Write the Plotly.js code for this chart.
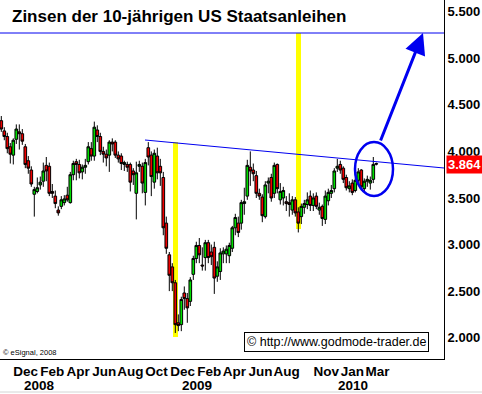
<!DOCTYPE html>
<html><head><meta charset="utf-8">
<script src="https://cdn.plot.ly/plotly-3.0.1.min.js"></script>
<style>html,body{margin:0;padding:0;background:#fff;} #chart{width:482px;height:394px;}</style>
</head><body><div id="chart"></div>
<script>
// Weekly candles (week ending Friday)
const weekDates = [
'2007-11-09','2007-11-16','2007-11-23','2007-11-30','2007-12-07','2007-12-14','2007-12-21','2007-12-28',
'2008-01-04','2008-01-11','2008-01-18','2008-01-25','2008-02-01','2008-02-08','2008-02-15','2008-02-22',
'2008-02-29','2008-03-07','2008-03-14','2008-03-21','2008-03-28','2008-04-04','2008-04-11','2008-04-18',
'2008-04-25','2008-05-02','2008-05-09','2008-05-16','2008-05-23','2008-05-30','2008-06-06','2008-06-13',
'2008-06-20','2008-06-27','2008-07-04','2008-07-11','2008-07-18','2008-07-25','2008-08-01','2008-08-08',
'2008-08-15','2008-08-22','2008-08-29','2008-09-05','2008-09-12','2008-09-19','2008-09-26','2008-10-03',
'2008-10-10','2008-10-17','2008-10-24','2008-10-31','2008-11-07','2008-11-14','2008-11-21','2008-11-28',
'2008-12-05','2008-12-12','2008-12-19','2008-12-26','2009-01-02','2009-01-09','2009-01-16','2009-01-23',
'2009-01-30','2009-02-06','2009-02-13','2009-02-20','2009-02-27','2009-03-06','2009-03-13','2009-03-20',
'2009-03-27','2009-04-03','2009-04-10','2009-04-17','2009-04-24','2009-05-01','2009-05-08','2009-05-15',
'2009-05-22','2009-05-29','2009-06-05','2009-06-12','2009-06-19','2009-06-26','2009-07-03','2009-07-10',
'2009-07-17','2009-07-24','2009-07-31','2009-08-07','2009-08-14','2009-08-21','2009-08-28','2009-09-04',
'2009-09-11','2009-09-18','2009-09-25','2009-10-02','2009-10-09','2009-10-16','2009-10-23','2009-10-30',
'2009-11-06','2009-11-13','2009-11-20','2009-11-27','2009-12-04','2009-12-11','2009-12-18','2009-12-25',
'2010-01-01','2010-01-08','2010-01-15','2010-01-22','2010-01-29','2010-02-05','2010-02-12','2010-02-19',
'2010-02-26','2010-03-05','2010-03-12','2010-03-19','2010-03-26','2010-04-02'];
const openVals = [
4.33,4.22,4.16,4.05,3.96,4.13,4.21,4.19,
4.05,3.90,3.80,3.54,3.57,3.64,3.68,3.85,
3.84,3.57,3.52,3.37,3.41,3.45,3.53,3.45,
3.75,3.89,3.86,3.78,3.83,3.89,4.03,3.95,
4.23,4.16,4.00,3.97,3.96,4.10,4.10,3.96,
3.95,3.86,3.86,3.86,3.79,3.55,3.84,3.84,
3.56,4.04,3.96,3.67,3.95,3.84,3.72,3.23,
2.89,2.76,2.59,2.16,2.14,2.48,2.42,2.39,
2.68,2.85,2.99,2.78,2.86,3.02,2.92,2.97,
2.66,2.71,2.90,2.90,2.88,2.96,3.18,3.23,
3.23,3.44,3.52,3.83,3.80,3.74,3.55,3.51,
3.30,3.66,3.72,3.55,3.86,3.48,3.50,3.46,
3.45,3.37,3.48,3.35,3.30,3.40,3.43,3.52,
3.42,3.52,3.37,3.41,3.27,3.47,3.55,3.60,
3.82,3.86,3.82,3.72,3.60,3.66,3.58,3.69,
3.80,3.60,3.68,3.66,3.70,3.87];
const highVals = [
4.38,4.26,4.20,4.09,4.14,4.29,4.29,4.24,
4.08,3.95,3.84,3.62,3.72,3.73,3.88,3.94,
3.88,3.65,3.58,3.41,3.52,3.53,3.62,3.78,
3.90,3.92,3.91,3.86,3.92,4.10,4.10,4.32,
4.28,4.20,4.05,4.02,4.12,4.14,4.12,4.00,
3.98,3.90,3.89,3.88,3.82,3.89,3.90,3.88,
3.92,4.10,4.00,4.02,4.04,3.92,3.78,3.30,
2.92,2.80,2.62,2.25,2.44,2.55,2.48,2.65,
2.88,3.03,3.07,2.97,3.05,3.05,3.00,3.03,
2.82,2.96,2.97,2.99,3.02,3.20,3.33,3.30,
3.48,3.61,3.91,4.00,3.87,3.79,3.60,3.54,
3.68,3.72,3.76,3.88,3.87,3.66,3.62,3.52,
3.55,3.52,3.51,3.40,3.44,3.48,3.56,3.58,
3.55,3.56,3.45,3.43,3.58,3.60,3.64,3.82,
3.92,3.90,3.84,3.75,3.68,3.70,3.72,3.82,
3.81,3.71,3.74,3.73,3.94,3.88];
const lowVals = [
4.21,4.12,3.98,3.87,3.86,4.08,4.02,4.07,
3.82,3.76,3.62,3.30,3.55,3.59,3.62,3.68,
3.52,3.50,3.39,3.31,3.38,3.42,3.46,3.44,
3.69,3.69,3.71,3.70,3.76,3.86,3.90,3.90,
4.10,3.96,3.88,3.84,3.78,4.00,3.93,3.88,
3.80,3.79,3.78,3.57,3.64,3.27,3.78,3.55,
3.42,3.85,3.52,3.60,3.70,3.63,3.10,2.90,
2.50,2.50,2.05,2.07,2.07,2.30,2.16,2.34,
2.62,2.80,2.80,2.72,2.72,2.80,2.78,2.47,
2.60,2.62,2.80,2.80,2.80,2.92,3.10,3.08,
3.16,3.32,3.48,3.63,3.68,3.50,3.48,3.24,
3.28,3.55,3.46,3.50,3.55,3.43,3.42,3.36,
3.30,3.32,3.30,3.13,3.22,3.33,3.38,3.36,
3.36,3.38,3.32,3.20,3.22,3.42,3.50,3.56,
3.78,3.76,3.66,3.58,3.56,3.53,3.56,3.64,
3.58,3.57,3.62,3.59,3.66,3.85];
const closeVals = [
4.24,4.16,4.03,3.97,4.12,4.24,4.19,4.11,
3.86,3.82,3.65,3.59,3.61,3.67,3.79,3.79,
3.55,3.55,3.44,3.34,3.48,3.49,3.48,3.75,
3.87,3.86,3.77,3.83,3.85,4.05,3.95,4.26,
4.16,4.00,3.97,3.93,4.10,4.08,3.96,3.92,
3.87,3.88,3.83,3.67,3.75,3.77,3.86,3.66,
3.88,3.94,3.73,3.98,3.77,3.77,3.18,2.96,
2.67,2.59,2.14,2.13,2.41,2.42,2.32,2.62,
2.85,2.99,2.89,2.77,3.02,2.86,2.87,2.64,
2.76,2.91,2.93,2.95,2.99,3.18,3.29,3.13,
3.45,3.46,3.85,3.79,3.76,3.55,3.52,3.31,
3.64,3.68,3.50,3.85,3.60,3.57,3.58,3.44,
3.43,3.48,3.34,3.23,3.41,3.44,3.48,3.42,
3.50,3.41,3.40,3.28,3.52,3.56,3.58,3.79,
3.84,3.80,3.70,3.61,3.63,3.56,3.69,3.78,
3.62,3.68,3.70,3.69,3.86,3.864];

const monthTickDates = ['2007-12-01','2008-02-01','2008-04-01','2008-06-01','2008-08-01','2008-10-01','2008-12-01','2009-02-01','2009-04-01','2009-06-01','2009-08-01','2009-11-01','2010-01-01','2010-03-01'];
const monthTickText = ['Dec','Feb','Apr','Jun','Aug','Oct','Dec','Feb','Apr','Jun','Aug','Nov','Jan','Mar'];
const yearLabelDates = ['2008-01-01','2009-01-01','2010-01-01'];
const yearLabelText = ['2008','2009','2010'];
const lastValue = 3.864;
const titleText = 'Zinsen der 10-jährigen US Staatsanleihen';
const creditText = '© http://www.godmode-trader.de';
const sourceText = '© eSignal, 2008';

// ---- geometry helpers (layout only) ----
const DAY = 86400000;
const T0 = Date.UTC(2007,10,9);
const PX_PER_DAY = 3/7, X0PX = 1.3, PLOT_W = 444;
function pxToDate(px){ return new Date(T0 + (px - X0PX)/PX_PER_DAY*DAY).toISOString().slice(0,19).replace('T',' '); }
function shiftDate(s, days){ return new Date(Date.parse(s+'T00:00:00Z') + days*DAY).toISOString().slice(0,10); }
function pxToVal(py){ return 5.5 - (py - 11.7)/93.14; }
function px(x){ return x/PLOT_W; }

const FONT = 'Liberation Sans, Arial, Helvetica, sans-serif';
const BLUE = '#0000f0';

const trace = {
  type:'candlestick', x:weekDates, open:openVals, high:highVals, low:lowVals, close:closeVals,
  increasing:{fillcolor:'#00dd00', line:{color:'#000000', width:1}},
  decreasing:{fillcolor:'#ee0000', line:{color:'#000000', width:1}},
  whiskerwidth:0, hoverinfo:'skip', showlegend:false
};

const annotations = [
  {xref:'paper', x:px(423), yref:'y', y:pxToVal(33), ax:-43, ay:109, axref:'pixel', ayref:'pixel',
   text:'', showarrow:true, arrowhead:2, arrowsize:1.4, arrowwidth:3, arrowcolor:BLUE, standoff:0},
  {xref:'paper', x:1, xanchor:'left', xshift:2, yref:'y', y:lastValue, yanchor:'middle',
   text:lastValue.toFixed(3), showarrow:false, bgcolor:'#ff0000', borderpad:1,
   font:{family:FONT, size:13, color:'#ffffff', weight:'bold'}},
  {xref:'paper', x:px(336), xanchor:'center', yref:'y', y:pxToVal(341.5), yanchor:'middle',
   text:creditText, showarrow:false, bgcolor:'#ffffff', bordercolor:'#000000', borderwidth:1, borderpad:2,
   font:{family:FONT, size:12.5, color:'#000000'}},
  {xref:'paper', x:0, xanchor:'left', xshift:1, yref:'y', y:pxToVal(352), yanchor:'middle',
   text:sourceText, showarrow:false, font:{family:FONT, size:7.5, color:'#000000'}}
];
yearLabelDates.forEach((d,i)=>{
  annotations.push({xref:'x', x:shiftDate(d,37), xanchor:'center', yref:'paper', y:0, yanchor:'top', yshift:-17,
    text:yearLabelText[i], showarrow:false, font:{family:FONT, size:13.5, color:'#000000', weight:'bold'}});
});

const shapes = [
  {type:'rect', xref:'paper', x0:px(173), x1:px(178), yref:'y', y0:pxToVal(337), y1:pxToVal(142),
   fillcolor:'#ffff00', line:{width:0}, layer:'below'},
  {type:'rect', xref:'paper', x0:px(296), x1:px(301), yref:'y', y0:pxToVal(229), y1:pxToVal(33),
   fillcolor:'#ffff00', line:{width:0}, layer:'below'},
  {type:'line', xref:'paper', x0:0, x1:1, yref:'y', y0:pxToVal(33), y1:pxToVal(33), line:{color:BLUE, width:1}},
  {type:'line', xref:'paper', x0:px(145), x1:1, yref:'y', y0:pxToVal(140), y1:pxToVal(168), line:{color:BLUE, width:1}},
  {type:'circle', xref:'paper', x0:px(355), x1:px(393), yref:'y', y0:pxToVal(196), y1:pxToVal(142), line:{color:BLUE, width:2.5}},
  {type:'line', xref:'paper', x0:0, x1:482/PLOT_W, yref:'paper', y0:(359-392)/359, y1:(359-392)/359, line:{color:'#d4d4d4', width:1}}
];

const layout = {
  width:482, height:394, paper_bgcolor:'#ffffff', plot_bgcolor:'#ffffff',
  margin:{l:0, r:38, t:0, b:35, pad:0},
  showlegend:false, hovermode:false, boxgap:0.12, boxgroupgap:0,
  title:{text:titleText, xref:'container', x:12/482, xanchor:'left', yref:'container', y:1-16.5/394, yanchor:'middle',
         font:{family:FONT, size:17, color:'#000000', weight:'bold'}},
  xaxis:{type:'date', range:[pxToDate(0), pxToDate(PLOT_W)], rangeslider:{visible:false},
         tickmode:'array', tickvals:monthTickDates.map(d=>shiftDate(d,35)), ticktext:monthTickText, tickangle:0,
         ticks:'', showgrid:false, zeroline:false, showline:true, linecolor:'#000000', linewidth:1,
         tickfont:{family:FONT, size:13.5, color:'#000000', weight:'bold'}, automargin:false, fixedrange:true},
  yaxis:{side:'right', range:[pxToVal(359), pxToVal(0)], tickmode:'linear', tick0:0, dtick:0.5, tickformat:'.3f',
         ticks:'', showgrid:false, zeroline:false, showline:true, linecolor:'#000000', linewidth:1,
         tickfont:{family:FONT, size:13, color:'#000000', weight:'bold'}, automargin:false, fixedrange:true},
  annotations:annotations, shapes:shapes
};

Plotly.newPlot('chart', [trace], layout, {staticPlot:true, displayModeBar:false});
</script>
</body></html>
